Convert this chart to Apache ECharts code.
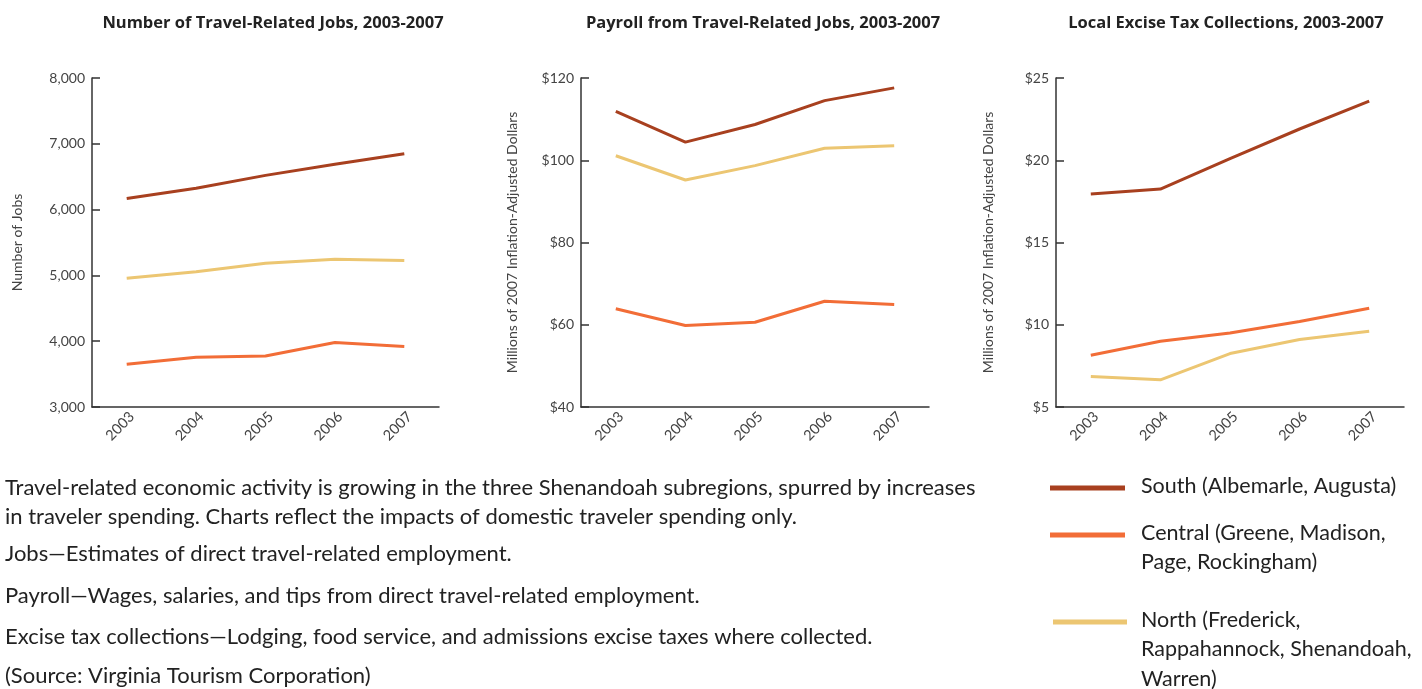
<!DOCTYPE html>
<html>
<head>
<meta charset="utf-8">
<script src="https://cdn.jsdelivr.net/npm/echarts@6/dist/echarts.min.js"></script>
<style>
  html, body { margin: 0; padding: 0; background: #fff; }
  #graph { width: 1422px; height: 689px; }
</style>
</head>
<body>
<div id="graph"></div>
<script>
// data
const years = ['2003', '2004', '2005', '2006', '2007'];

const jobsSouth = [6170, 6325, 6520, 6690, 6850];
const jobsCentral = [3650, 3755, 3775, 3980, 3920];
const jobsNorth = [4955, 5055, 5185, 5245, 5225];

const payrollSouth = [111.9, 104.4, 108.7, 114.5, 117.6];
const payrollCentral = [63.9, 59.8, 60.6, 65.7, 64.9];
const payrollNorth = [101.1, 95.2, 98.7, 102.9, 103.5];

const taxSouth = [17.95, 18.25, 20.1, 21.9, 23.6];
const taxCentral = [8.15, 9.0, 9.5, 10.2, 11.0];
const taxNorth = [6.85, 6.65, 8.25, 9.1, 9.6];

const chartTitles = [
  'Number of Travel-Related Jobs, 2003-2007',
  'Payroll from Travel-Related Jobs, 2003-2007',
  'Local Excise Tax Collections, 2003-2007'
];
const yNames = ['Number of Jobs', 'Millions of 2007 Inflation-Adjusted Dollars', 'Millions of 2007 Inflation-Adjusted Dollars'];

const seriesNames = ['South (Albemarle, Augusta)', 'Central (Greene, Madison, Page, Rockingham)', 'North (Frederick, Rappahannock, Shenandoah, Warren)'];
const colors = ['#A8401F', '#F26D37', '#ECC672'];

const notes = [
  'Travel-related economic activity is growing in the three Shenandoah subregions, spurred by increases',
  'in traveler spending. Charts reflect the impacts of domestic traveler spending only.',
  'Jobs\u2014Estimates of direct travel-related employment.',
  'Payroll\u2014Wages, salaries, and tips from direct travel-related employment.',
  'Excise tax collections\u2014Lodging, food service, and admissions excise taxes where collected.',
  '(Source: Virginia Tourism Corporation)'
];

const FONT = 'Lato, "Open Sans", sans-serif';
const axisColor = '#333';
const labelColor = '#444';

var myChart = echarts.init(document.getElementById('graph'), null, { renderer: 'canvas' });

const grids = [
  { left: 92, top: 78, width: 347, height: 329 },
  { left: 581, top: 78, width: 348, height: 329 },
  { left: 1056, top: 78, width: 348, height: 329 }
];
const yRanges = [
  { min: 3000, max: 8000, interval: 1000, fmt: v => v.toLocaleString('en-US'), gap: 68 },
  { min: 40, max: 120, interval: 20, fmt: v => '$' + v, gap: 62 },
  { min: 5, max: 25, interval: 5, fmt: v => '$' + v, gap: 61 }
];
const dataSets = [
  [jobsSouth, jobsCentral, jobsNorth],
  [payrollSouth, payrollCentral, payrollNorth],
  [taxSouth, taxCentral, taxNorth]
];

const xAxes = grids.map((g, i) => ({
  type: 'category',
  gridIndex: i,
  data: years,
  boundaryGap: true,
  axisLine: { lineStyle: { color: axisColor, width: 1.5 } },
  axisTick: { inside: true, length: 8, lineStyle: { color: axisColor, width: 1.5 } },
  axisLabel: { rotate: 45, color: labelColor, fontFamily: FONT, fontSize: 14.5, margin: 2, verticalAlign: 'top' }
}));

const yAxes = grids.map((g, i) => ({
  type: 'value',
  gridIndex: i,
  min: yRanges[i].min,
  max: yRanges[i].max,
  interval: yRanges[i].interval,
  name: yNames[i],
  nameLocation: 'middle',
  nameGap: yRanges[i].gap,
  nameTextStyle: { color: labelColor, fontFamily: FONT, fontSize: 14 },
  splitLine: { show: false },
  axisLine: { show: true, lineStyle: { color: axisColor, width: 1.5 } },
  axisTick: { show: true, inside: true, length: 8, lineStyle: { color: axisColor, width: 1.5 } },
  axisLabel: { color: labelColor, fontFamily: FONT, fontSize: 14, margin: 7, formatter: yRanges[i].fmt }
}));

const series = [];
dataSets.forEach((sets, i) => {
  sets.forEach((data, k) => {
    series.push({
      type: 'line',
      name: seriesNames[k],
      xAxisIndex: i,
      yAxisIndex: i,
      data: data,
      symbol: 'none',
      lineStyle: { color: colors[k], width: 3 },
      z: 3 - k
    });
  });
});

const titles = chartTitles.map((t, i) => ({
  text: t,
  left: [268, 758, 1221][i],
  textAlign: 'center',
  top: 10,
  textStyle: { fontFamily: '"Open Sans", sans-serif', fontWeight: 'bold', fontSize: 16.5, color: '#222' }
}));

// paragraph + legend as graphic text
const noteY = [490, 519, 556, 598, 639, 678];
const graphic = notes.map((line, i) => ({
  type: 'text',
  left: 5,
  top: noteY[i] - 13,
  style: { text: line, font: '22px ' + FONT, fill: '#222' }
}));

const legendRows = [
  { y: 488, lines: ['South (Albemarle, Augusta)'] },
  { y: 535, lines: ['Central (Greene, Madison,', 'Page, Rockingham)'] },
  { y: 622, lines: ['North (Frederick,', 'Rappahannock, Shenandoah,', 'Warren)'] }
];
legendRows.forEach((row, k) => {
  graphic.push({
    type: 'line',
    shape: { x1: k === 2 ? 1053 : 1050, y1: row.y, x2: k === 2 ? 1127 : 1125, y2: row.y },
    style: { stroke: colors[k], lineWidth: 5 }
  });
  row.lines.forEach((txt, j) => {
    graphic.push({
      type: 'text',
      left: 1141,
      top: row.y - 13 + j * 29.5,
      style: { text: txt, font: '21.5px ' + FONT, fill: '#222' }
    });
  });
});

myChart.setOption({
  animation: false,
  backgroundColor: '#fff',
  title: titles,
  grid: grids,
  xAxis: xAxes,
  yAxis: yAxes,
  series: series,
  graphic: graphic
});
</script>
</body>
</html>
